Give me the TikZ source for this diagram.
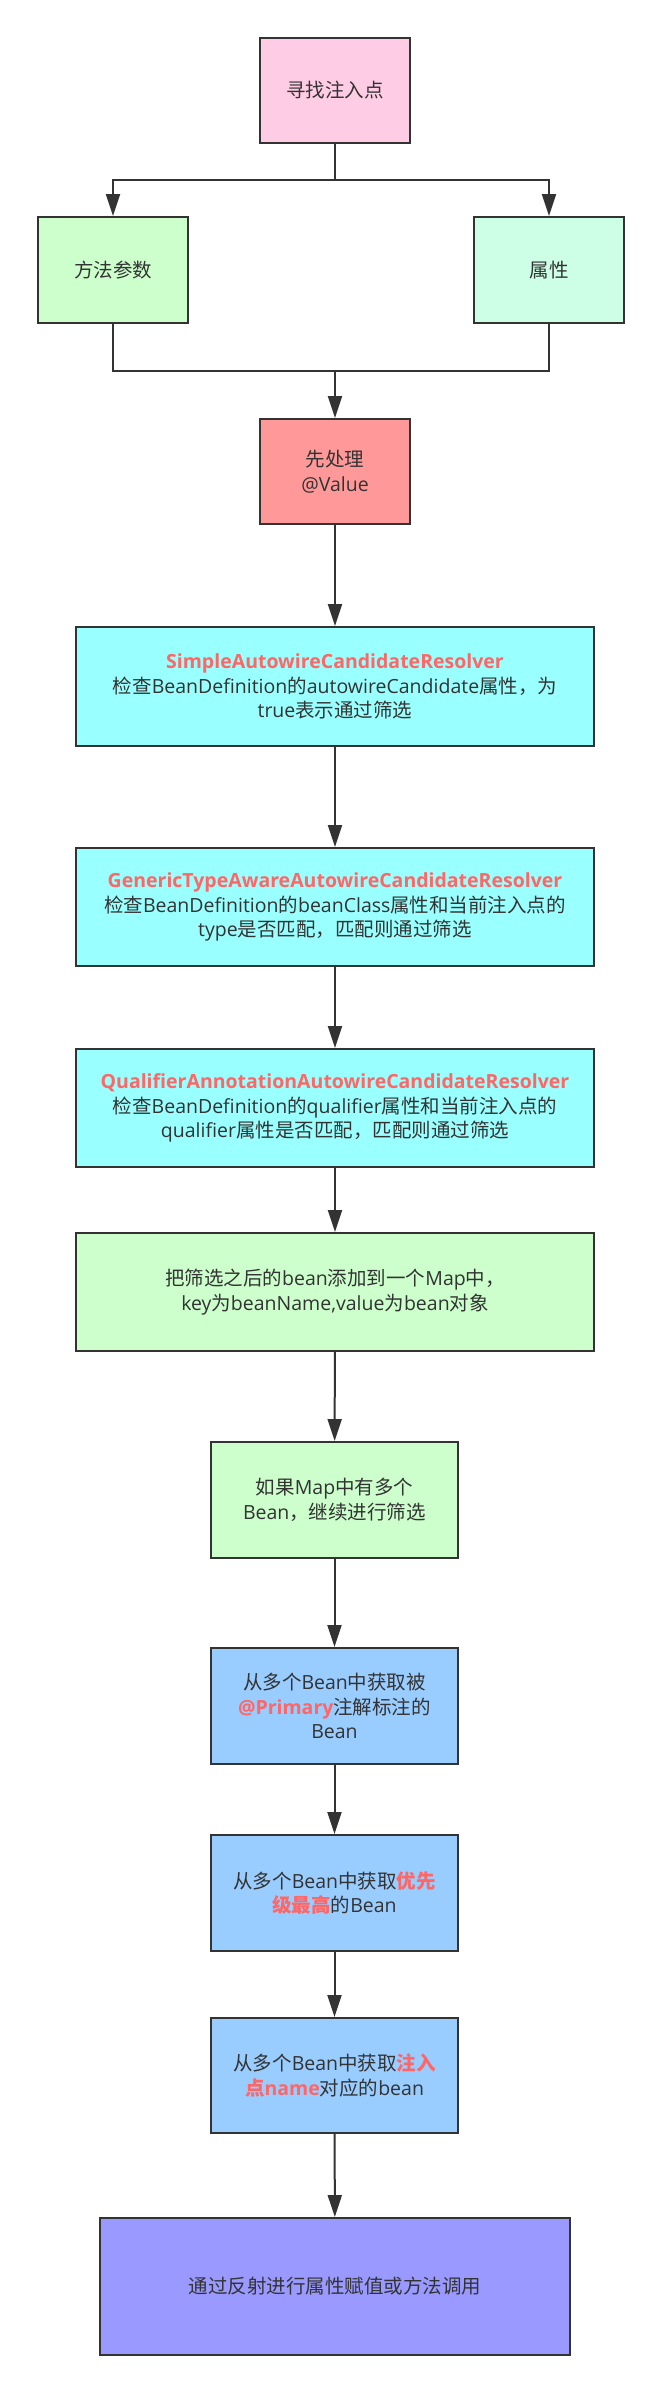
\documentclass[tikz,border=0pt]{standalone}
\usepackage{fontspec}
\setmainfont{Open Sans}
\newfontfamily\latinfont{Open Sans}
\newfontfamily\cjkfont{Noto Sans CJK SC}
\newXeTeXintercharclass\cjkcls
\count255="3000
\loop\ifnum\count255<"3040 \XeTeXcharclass\count255=\cjkcls\relax\advance\count255 by 1 \repeat
\count255="4E00
\loop\ifnum\count255<"A000 \XeTeXcharclass\count255=\cjkcls\relax\advance\count255 by 1 \repeat
\count255="FF00
\loop\ifnum\count255<"FF60 \XeTeXcharclass\count255=\cjkcls\relax\advance\count255 by 1 \repeat
\XeTeXinterchartoks 0 \cjkcls = {\cjkfont}
\XeTeXinterchartoks 4095 \cjkcls = {\cjkfont}
\XeTeXinterchartoks \cjkcls 0 = {\latinfont}
\XeTeXinterchartoks \cjkcls 4095 = {\latinfont}
\XeTeXinterchartokenstate=1
\usetikzlibrary{arrows.meta}
\definecolor{edge}{HTML}{333333}
\definecolor{txt}{HTML}{333333}
\definecolor{hl}{HTML}{FF6666}
\definecolor{cpink}{HTML}{FFCCE6}
\definecolor{cgreen}{HTML}{CCFFCC}
\definecolor{cmint}{HTML}{CCFFE6}
\definecolor{cred}{HTML}{FF9999}
\definecolor{ccyan}{HTML}{99FFFF}
\definecolor{cblue}{HTML}{99CCFF}
\definecolor{cviolet}{HTML}{9999FF}
\newcommand{\hlt}[1]{{\bfseries\color{hl}#1}}
\begin{document}
\begin{tikzpicture}[x=1pt,y=-1pt,
  box/.style={draw=edge, line width=2pt, rectangle, inner sep=0pt, align=center,
    text=txt, font=\fontsize{19.5}{24.5}\selectfont},
  conn/.style={draw=edge, line width=2pt},
  arr/.style={conn, -{Triangle[length=22pt,width=14pt]}}]
\useasboundingbox (0,0) rectangle (662,2394);
\node[box, fill=cpink, minimum width=150pt, minimum height=105pt] (n1) at (335,90.5) {寻找注入点};
\node[box, fill=cgreen, minimum width=150pt, minimum height=106pt] (n2) at (113,270) {方法参数};
\node[box, fill=cmint, minimum width=150pt, minimum height=106pt] (n3) at (549,270) {属性};
\node[box, fill=cred, minimum width=150pt, minimum height=105pt] (n4) at (335,471.5) {先处理\\@Value};
\node[box, fill=ccyan, minimum width=518pt, minimum height=119pt] (n5) at (335,686.5)
  {\hlt{SimpleAutowireCandidateResolver}\\检查BeanDefinition的autowireCandidate属性，为\\true表示通过筛选};
\node[box, fill=ccyan, minimum width=518pt, minimum height=118pt] (n6) at (335,907)
  {\hlt{GenericTypeAwareAutowireCandidateResolver}\\检查BeanDefinition的beanClass属性和当前注入点的\\type是否匹配，匹配则通过筛选};
\node[box, fill=ccyan, minimum width=518pt, minimum height=118pt] (n7) at (335,1108)
  {\hlt{QualifierAnnotationAutowireCandidateResolver}\\检查BeanDefinition的qualifier属性和当前注入点的\\qualifier属性是否匹配，匹配则通过筛选};
\node[box, fill=cgreen, minimum width=518pt, minimum height=118pt] (n8) at (335,1292)
  {把筛选之后的bean添加到一个Map中，\\key为beanName,value为bean对象};
\node[box, fill=cgreen, minimum width=247pt, minimum height=116pt] (n9) at (334.5,1500)
  {如果Map中有多个\\Bean，继续进行筛选};
\node[box, fill=cblue, minimum width=247pt, minimum height=116pt] (n10) at (334.5,1706)
  {从多个Bean中获取被\\\hlt{@Primary}注解标注的\\Bean};
\node[box, fill=cblue, minimum width=247pt, minimum height=116pt] (n11) at (334.5,1893)
  {从多个Bean中获取\hlt{优先}\\\hlt{级最高}的Bean};
\node[box, fill=cblue, minimum width=247pt, minimum height=115pt] (n12) at (334.5,2075.5)
  {从多个Bean中获取\hlt{注入}\\\hlt{点name}对应的bean};
\node[box, fill=cviolet, minimum width=470pt, minimum height=137pt] (n13) at (335,2286.5)
  {通过反射进行属性赋值或方法调用};
\coordinate (j1) at (335,180);
\coordinate (j2) at (335,371);
\draw[conn] (n1.south) -- (j1);
\draw[arr] (j1) -| (n2.north);
\draw[arr] (j1) -| (n3.north);
\draw[conn] (n2.south) |- (j2);
\draw[conn] (n3.south) |- (j2);
\draw[arr] (j2) -- (n4.north);
\draw[arr] (n4) -- (n5);
\draw[arr] (n5) -- (n6);
\draw[arr] (n6) -- (n7);
\draw[arr] (n7) -- (n8);
\draw[arr] (n8) -- (n9);
\draw[arr] (n9) -- (n10);
\draw[arr] (n10) -- (n11);
\draw[arr] (n11) -- (n12);
\draw[arr] (n12) -- (n13);
\end{tikzpicture}
\end{document}
